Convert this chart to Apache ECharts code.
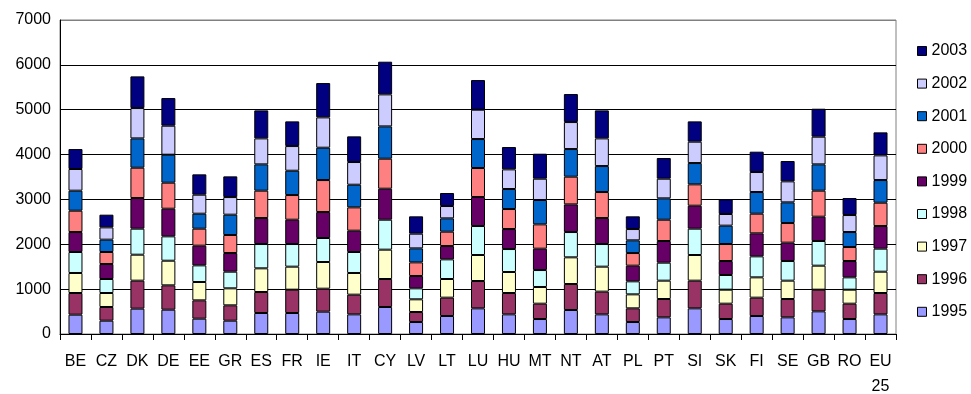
<!DOCTYPE html>
<html>
<head>
<meta charset="utf-8">
<script src="https://cdn.jsdelivr.net/npm/echarts@6/dist/echarts.min.js"></script>
<style>html,body{margin:0;padding:0;background:#fff;}#c{width:971px;height:394px;}</style>
</head>
<body>
<div id="c"></div>
<script>
const categories = ['BE','CZ','DK','DE','EE','GR','ES','FR','IE','IT','CY','LV','LT','LU','HU','MT','NT','AT','PL','PT','SI','SK','FI','SE','GB','RO','EU\n25'];
const years = ['1995','1996','1997','1998','1999','2000','2001','2002','2003'];
const y1995 = [431,297,565,542,342,297,468,468,498,438,602,267,401,572,438,334,535,438,267,371,572,334,401,371,505,334,438];
const y1996 = [483,305,624,543,408,342,468,520,512,439,624,223,409,609,476,342,579,506,305,409,617,342,409,409,483,342,476];
const y1997 = [446,312,579,549,409,379,528,513,595,483,654,283,416,580,468,372,595,557,312,409,572,312,453,409,535,312,475];
const y1998 = [468,312,580,543,371,371,542,505,535,468,668,245,438,646,512,378,564,505,290,401,587,327,468,438,550,275,513];
const y1999 = [445,334,683,616,439,416,579,542,579,475,691,275,297,646,446,476,617,579,349,483,512,312,513,409,542,364,505];
const y2000 = [476,268,676,580,379,402,610,550,713,520,669,304,320,647,446,542,617,580,282,475,476,379,438,438,580,312,520];
const y2001 = [446,275,654,624,334,453,587,542,721,505,720,312,297,646,446,543,616,579,283,476,475,409,483,461,587,334,505];
const y2002 = [483,274,676,646,423,393,579,550,676,506,714,327,275,654,438,475,602,617,252,438,476,260,446,468,616,379,550];
const y2003 = [445,283,706,617,454,461,624,550,765,572,728,387,290,661,498,557,624,624,283,461,453,326,453,453,624,379,513];
const yTicks = [0,1000,2000,3000,4000,5000,6000,7000];

const seriesValues = [y1995,y1996,y1997,y1998,y1999,y2000,y2001,y2002,y2003];
const colors = ['#9999FF','#993366','#FFFFCC','#CCFFFF','#660066','#FF8080','#0066CC','#CCCCFF','#000080'];

const chart = echarts.init(document.getElementById('c'));
const font = 'Liberation Sans, Arial, sans-serif';
chart.setOption({
  animation: false,
  backgroundColor: '#fff',
  grid: {left: 60, right: 75, top: 20, bottom: 60, show: true, borderColor: '#808080', borderWidth: 1, containLabel: false, outerBoundsMode: 'none'},
  legend: {
    orient: 'vertical', left: 912, top: 38,
    data: years.slice().reverse(),
    icon: 'rect', itemWidth: 9, itemHeight: 9, itemGap: 16.6,
    itemStyle: {borderColor: '#000', borderWidth: 1},
    textStyle: {fontFamily: font, fontSize: 16, lineHeight: 16, color: '#000'}
  },
  xAxis: {
    type: 'category', data: categories,
    axisLine: {lineStyle: {color: '#000', width: 1}},
    axisTick: {show: true, length: 6, lineStyle: {color: '#000'}},
    axisLabel: {interval: 0, fontFamily: font, fontSize: 16, lineHeight: 25, color: '#000', margin: 15}
  },
  yAxis: {
    type: 'value', min: yTicks[0], max: yTicks[yTicks.length-1], interval: 1000,
    axisLine: {show: true, lineStyle: {color: '#000', width: 1}},
    axisTick: {show: false},
    axisLabel: {fontFamily: font, fontSize: 16, color: '#000', margin: 9, formatter: v => String(v)},
    splitLine: {lineStyle: {color: ['#000','#000','#000','#000','#000','#000','#000','#808080'], width: 1}}
  },
  series: years.map((y, i) => ({
    name: y, type: 'bar', stack: 'total', data: seriesValues[i], barWidth: 14,
    itemStyle: {color: colors[i], borderColor: '#000', borderWidth: 1}
  }))
});
</script>
</body>
</html>
